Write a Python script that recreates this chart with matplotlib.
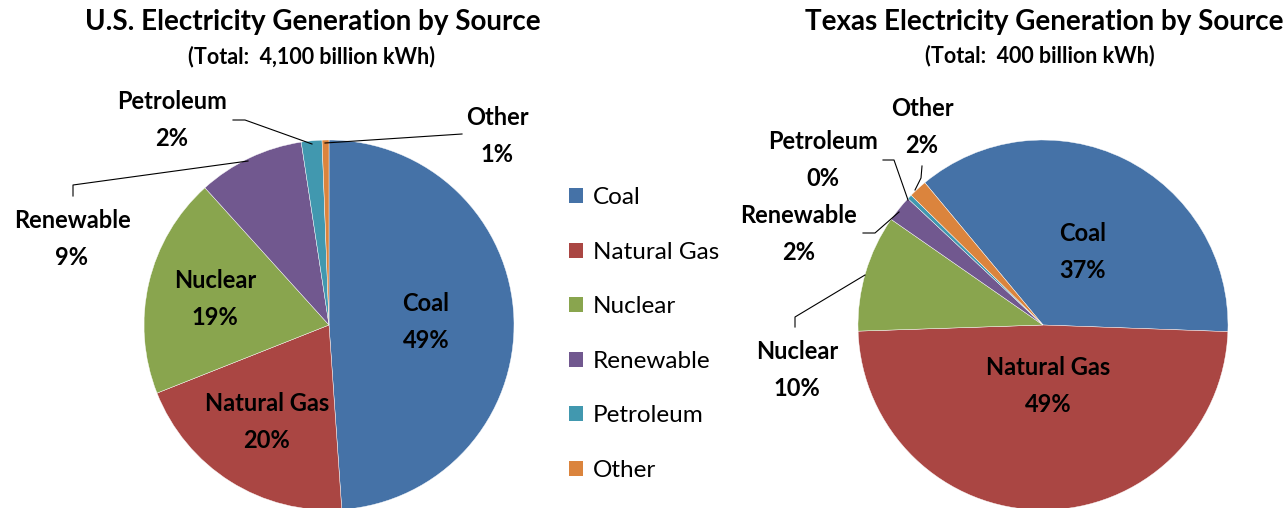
import matplotlib
matplotlib.use("Agg")
import matplotlib.pyplot as plt
from matplotlib.patches import Patch

# data
sources = ['Coal', 'Natural Gas', 'Nuclear', 'Renewable', 'Petroleum', 'Other']
us_share = [48.9, 20.1, 19.3, 9.3, 1.8, 0.6]
tx_share = [36.6, 48.9, 10.2, 2.3, 0.4, 1.6]
us_title = 'U.S. Electricity Generation by Source'
us_total = '(Total:  4,100 billion kWh)'
tx_title = 'Texas Electricity Generation by Source'
tx_total = '(Total:  400 billion kWh)'

colors = ['#4572A7', '#AA4643', '#89A54E', '#71588F', '#4198AF', '#DB843D']

W, H = 1288, 508
R = 185  # pie radius in px

plt.rcParams['font.family'] = ['Lato', 'DejaVu Sans']

# label layout, pixel coords (label centre, leader line points)
us_layout = {
    'center': (329, 325),
    'labels': [(426, 322), (267, 422), (215, 299), (72, 239), (172, 120), (497, 136)],
    'leaders': [None, None, None,
                [(73, 196), (73, 185), (248, 161)],
                [(233, 120), (245, 120), (312, 144)],
                [(462, 134), (325, 143)]],
}
tx_layout = {
    'center': (1043, 325),
    'labels': [(1083, 252), (1048, 386), (797, 370), (799, 234), (823, 160), (922, 127)],
    'leaders': [None, None,
                [(795, 327), (795, 317), (865, 275)],
                [(863, 233), (875, 233), (899, 212)],
                [(883, 160), (894, 160), (908, 200)],
                [(922, 166), (921, 178), (915, 190)]],
}


def draw_pie(fig, values, layout, startangle):
    cx, cy = layout['center']
    ax = fig.add_axes([(cx - R) / W, (H - cy - R) / H, 2 * R / W, 2 * R / H])
    wedges, _ = ax.pie(values, colors=colors, startangle=startangle, counterclock=False,
                       radius=1, wedgeprops=dict(edgecolor='white', linewidth=0.3))
    ax.set_xlim(-1, 1)
    ax.set_ylim(-1, 1)
    ax.set_aspect('auto')
    ax.axis('off')

    def to_data(p):
        return (p[0] - cx) / R, (cy - p[1]) / R

    for name, val, pos, lead in zip(sources, values, layout['labels'], layout['leaders']):
        x, y = to_data(pos)
        ax.text(x, y, f'{name}\n{round(val):.0f}%', ha='center', va='center',
                fontsize=17, fontweight='bold', linespacing=1.7, clip_on=False)
        if lead:
            pts = [to_data(p) for p in lead]
            ax.plot([p[0] for p in pts], [p[1] for p in pts], color='black',
                    lw=0.8, clip_on=False)
    return wedges


fig = plt.figure(figsize=(W / 100, H / 100), dpi=100)

wedges = draw_pie(fig, us_share, us_layout, 90)
draw_pie(fig, tx_share, tx_layout, 129.7)

fig.text(313 / W, 1 - 22 / H, us_title, ha='center', va='center', fontsize=20, fontweight='bold')
fig.text(312 / W, 1 - 57 / H, us_total, ha='center', va='center', fontsize=15.5, fontweight='bold')
fig.text(1044 / W, 1 - 22 / H, tx_title, ha='center', va='center', fontsize=20, fontweight='bold')
fig.text(1040 / W, 1 - 56 / H, tx_total, ha='center', va='center', fontsize=15.5, fontweight='bold')

handles = [Patch(facecolor=c, edgecolor='none') for c in colors]
fig.legend(handles, sources, loc='center left', bbox_to_anchor=(569 / W, 1 - 334 / H),
           frameon=False, fontsize=17.5, handlelength=0.58, handleheight=0.58,
           handletextpad=0.4, labelspacing=1.38, borderpad=0, borderaxespad=0)

fig.savefig('out.png', dpi=100)
